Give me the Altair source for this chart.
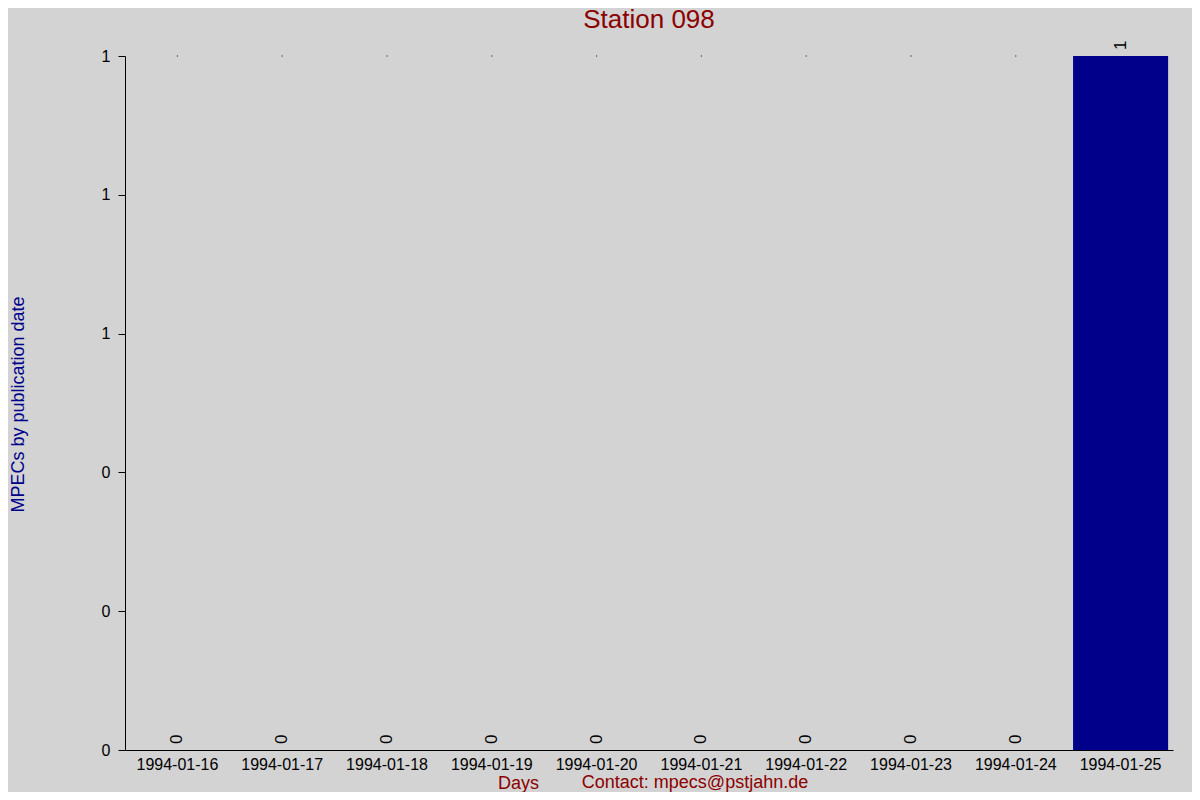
import altair as alt
import pandas as pd

dates = ["1994-01-16", "1994-01-17", "1994-01-18", "1994-01-19", "1994-01-20",
         "1994-01-21", "1994-01-22", "1994-01-23", "1994-01-24", "1994-01-25"]
counts = [0, 0, 0, 0, 0, 0, 0, 0, 0, 1]
y_ticks = [0, 0.2, 0.4, 0.6, 0.8, 1.0]

df = pd.DataFrame({"date": dates, "count": counts})

FONT = "Liberation Sans"
W, H = 1048, 694

xenc = alt.X("date:N", sort=dates,
             scale=alt.Scale(paddingInner=0.093, paddingOuter=0.0465),
             axis=alt.Axis(title="Days", titleColor="#8b0000", titleFontSize=18,
                           titleFontWeight="normal", titleFont=FONT,
                           titleX=393, titleY=33, titleAlign="center", titleBaseline="middle",
                           labelAngle=0, labelFontSize=16, labelFont=FONT, labelColor="black",
                           labelPadding=6, ticks=False, domainColor="black",
                           grid=False))
yenc = alt.Y("count:Q", scale=alt.Scale(domain=[0, 1], nice=False),
             axis=alt.Axis(title="MPECs by publication date", titleColor="#00008b",
                           titleFontSize=18, titleFontWeight="normal", titleFont=FONT,
                           titleX=-107, titleY=348, titleAngle=270, titleAlign="center",
                           titleBaseline="middle",
                           values=y_ticks, format=".0f", labelFontSize=16, labelFont=FONT,
                           labelColor="black", labelPadding=8, tickSize=7, tickColor="black",
                           domainColor="black", grid=False))

bars = alt.Chart(df).mark_bar(color="#00008b").encode(x=xenc, y=yenc)

labels = alt.Chart(df).mark_text(angle=270, align="left", baseline="middle", dx=6,
                                 fontSize=17, font=FONT, color="black").encode(
    x=alt.X("date:N", sort=dates), y="count:Q", text="count:Q")

dots = alt.Chart(df).transform_filter("datum.count == 0").mark_square(
    size=1, color="black", opacity=1).encode(x=alt.X("date:N", sort=dates), y=alt.value(0))

contact = alt.Chart(df).transform_filter("datum.count == 1").mark_text(
    text="Contact: mpecs@pstjahn.de", fontSize=18, font=FONT, color="#8b0000",
    align="center", baseline="middle").encode(x=alt.value(570), y=alt.value(727))

chart = alt.layer(bars, labels, dots, contact).properties(
    width=W, height=H,
    title=alt.TitleParams("Station 098", color="#8b0000", fontSize=26, font=FONT,
                          fontWeight="normal", anchor="middle", offset=8),
    background="#d3d3d3",
    padding={"left": 117, "top": 48, "right": 19, "bottom": 42},
    autosize=alt.AutoSizeParams(type="none"),
).configure_view(stroke=None)

chart.save("out.html", embed_options={"renderer": "svg", "actions": False})
